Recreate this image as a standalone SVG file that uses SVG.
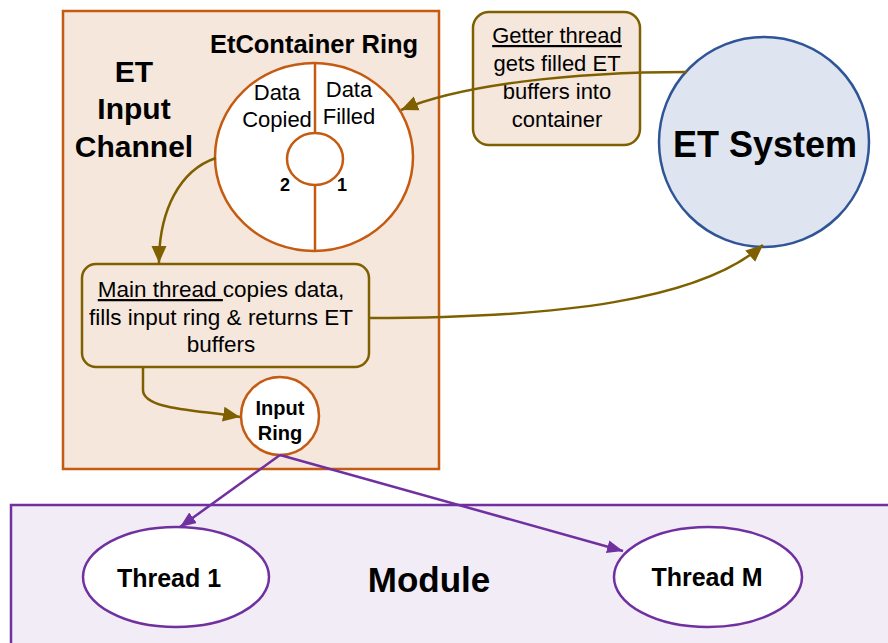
<svg xmlns="http://www.w3.org/2000/svg" width="888" height="643" viewBox="0 0 888 643">
<style>
.t{font-family:"Liberation Sans",Arial,sans-serif;fill:#000;text-anchor:middle}
.b{font-weight:bold}
.ol{fill:none;stroke:#7F6000;stroke-width:2.5}
.pu{fill:none;stroke:#7030A0;stroke-width:2.5}
.or{stroke:#C55A11;stroke-width:2.5}
</style>
<defs>
<marker id="ao" markerUnits="userSpaceOnUse" markerWidth="18" markerHeight="18" viewBox="0 0 18 18" refX="17" refY="9" orient="auto">
<path d="M0,1.5 L17,9 L0,16.5 Z" fill="#7F6000"/>
</marker>
<marker id="ap" markerUnits="userSpaceOnUse" markerWidth="18" markerHeight="18" viewBox="0 0 18 18" refX="16" refY="9" orient="auto">
<path d="M0,2.5 L16,9 L0,15.5 Z" fill="#7030A0"/>
</marker>
</defs>

<g id="module">
<rect x="11" y="505" width="890" height="150" fill="#F1ECF5" stroke="#7030A0" stroke-width="2.5"/>
<text class="t b" x="429" y="592" font-size="35">Module</text>
</g>

<g id="et-input-channel">
<rect x="63" y="11" width="376" height="458" fill="#F5E7DC" class="or"/>
<text class="t b" font-size="30"><tspan x="134" y="82">ET</tspan><tspan x="134" y="119">Input</tspan><tspan x="134" y="157">Channel</tspan></text>
</g>

<g id="etcontainer-ring">
<text class="t b" x="314" y="53" font-size="25.5">EtContainer Ring</text>
<ellipse cx="314" cy="157" rx="99" ry="94" fill="#fff" class="or"/>
<line x1="315" y1="63" x2="315" y2="133" class="or"/>
<line x1="315" y1="185" x2="315" y2="251" class="or"/>
<ellipse cx="315" cy="159" rx="28" ry="26" fill="#fff" class="or"/>
<text class="t" font-size="22"><tspan x="277" y="100">Data</tspan><tspan x="277" y="127">Copied</tspan></text>
<text class="t" font-size="22"><tspan x="349" y="97">Data</tspan><tspan x="349" y="124">Filled</tspan></text>
<text class="t b" x="285" y="191" font-size="18">2</text>
<text class="t b" x="342" y="191" font-size="18">1</text>
</g>

<g id="getter-thread">
<rect x="473" y="12" width="167" height="133" rx="16" fill="#F5E7DC" stroke="#7F6000" stroke-width="2.5"/>
<text class="t" font-size="22"><tspan x="557" y="43" text-decoration="underline">Getter thread</tspan><tspan x="557" y="71">gets filled ET</tspan><tspan x="557" y="99">buffers into</tspan><tspan x="557" y="127">container</tspan></text>
</g>

<g id="et-system">
<circle cx="764" cy="142" r="105" fill="#DEE5F1" stroke="#2F5597" stroke-width="2.5"/>
<text class="t b" x="765" y="157" font-size="36">ET System</text>
</g>

<g id="main-thread">
<rect x="82" y="264" width="287" height="103" rx="14" fill="#F5E7DC" stroke="#7F6000" stroke-width="2.5"/>
<text class="t" font-size="22.5" x="221" y="297"><tspan text-decoration="underline">Main thread </tspan>copies data,</text>
<text class="t" font-size="22.5" x="221" y="325">fills input ring &amp; returns ET</text>
<text class="t" font-size="22.5" x="221" y="352">buffers</text>
</g>

<g id="input-ring">
<circle cx="280" cy="416" r="39" fill="#fff" class="or"/>
<text class="t b" font-size="20"><tspan x="280" y="415">Input</tspan><tspan x="280" y="440">Ring</tspan></text>
</g>

<g id="thread-1">
<ellipse cx="176" cy="577" rx="93" ry="50" fill="#fff" stroke="#7030A0" stroke-width="2.5"/>
<text class="t b" x="169" y="587" font-size="25">Thread 1</text>
</g>

<g id="thread-m">
<ellipse cx="708" cy="577" rx="94" ry="50" fill="#fff" stroke="#7030A0" stroke-width="2.5"/>
<text class="t b" x="707" y="586" font-size="25">Thread M</text>
</g>

<g id="connectors">
<path class="ol" d="M687,72 C570,72 460,85 401,110" marker-end="url(#ao)"/>
<path class="ol" d="M216,158 C180,170 159,210 159,263" marker-end="url(#ao)"/>
<path class="ol" d="M369,318 C560,318 700,300 763,245" marker-end="url(#ao)"/>
<path class="ol" d="M143,367 L143,390 C143,410 200,410 240,417" marker-end="url(#ao)"/>
<path class="pu" d="M280,455 L180,527" marker-end="url(#ap)"/>
<path class="pu" d="M280,455 L623,551" marker-end="url(#ap)"/>
</g>
</svg>
